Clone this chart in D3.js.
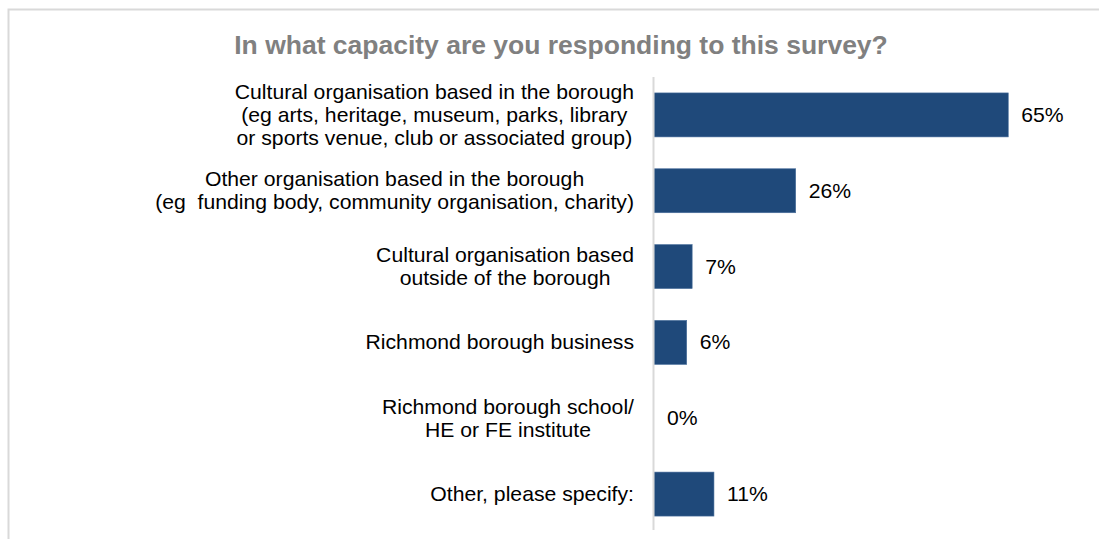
<!DOCTYPE html>
<html>
<head>
<meta charset="utf-8">
<script src="https://cdn.jsdelivr.net/npm/d3@7"></script>
<style>
  html, body { margin: 0; padding: 0; background: #fff; }
  svg { display: block; font-family: "Liberation Sans", Arial, sans-serif; }
  text { white-space: pre; }
</style>
</head>
<body>
<svg id="chart" width="1099" height="539"></svg>
<script>
// Survey responses: respondent type and share (%)
const categories = [
  ["Cultural organisation based in the borough", "(eg arts, heritage, museum, parks, library", "or sports venue, club or associated group)"],
  ["Other organisation based in the borough", "(eg  funding body, community organisation, charity)"],
  ["Cultural organisation based", "outside of the borough"],
  ["Richmond borough business"],
  ["Richmond borough school/", "HE or FE institute"],
  ["Other, please specify:"]
];
const values = [65, 26, 7, 6, 0, 11];
const valueLabels = ["65%", "26%", "7%", "6%", "0%", "11%"];
const title = "In what capacity are you responding to this survey?";

const svg = d3.select("#chart");
const W = 1099, H = 539;
const stretch = 1.06;   // slightly wide text rendering

// Chart frame (top and left edges)
svg.append("path")
  .attr("d", `M8.5,${H} L8.5,9.5 L${W},9.5`)
  .attr("fill", "none")
  .attr("stroke", "#d9d9d9")
  .attr("stroke-width", 2);

svg.append("text")
  .attr("transform", `translate(561,54) scale(${stretch},1)`)
  .attr("text-anchor", "middle")
  .attr("font-size", 25)
  .attr("font-weight", "bold")
  .attr("fill", "#808080")
  .text(title);

const x0 = 654;
const x = d3.scaleLinear().domain([0, 100]).range([x0, x0 + 545]);
const y = d3.scaleBand()
  .domain(d3.range(categories.length))
  .range([77, 532])
  .paddingInner(0.42)
  .paddingOuter(0.21);

// Bars
svg.selectAll("rect.bar")
  .data(values)
  .join("rect")
  .attr("class", "bar")
  .attr("x", x(0))
  .attr("y", (d, i) => y(i))
  .attr("width", d => x(d) - x(0))
  .attr("height", y.bandwidth())
  .attr("fill", "#1f497a")
  .attr("stroke", d => d > 0 ? "#4a6f9c" : "none")
  .attr("stroke-width", 0.6);

// Category axis line
svg.append("line")
  .attr("x1", x0 - 0.5).attr("x2", x0 - 0.5)
  .attr("y1", 77).attr("y2", 530)
  .attr("stroke", "#d9d9d9")
  .attr("stroke-width", 2);

// Value labels
svg.selectAll("text.val")
  .data(values)
  .join("text")
  .attr("class", "val")
  .attr("transform", (d, i) =>
    `translate(${x(d) + 13},${y(i) + y.bandwidth() / 2 + 7}) scale(${stretch},1)`)
  .attr("font-size", 20)
  .attr("fill", "#000")
  .text((d, i) => valueLabels[i]);

// Category labels: lines centred within a block right-aligned to the axis
const lineH = 22.6;
const labelRight = 634;
categories.forEach((lines, i) => {
  const cy = y(i) + y.bandwidth() / 2;
  const g = svg.append("g")
    .attr("transform", `translate(${labelRight},${cy}) scale(${stretch},1)`);
  const t = g.append("text")
    .attr("font-size", 20)
    .attr("fill", "#000")
    .attr("text-anchor", "middle");
  const spans = lines.map((ln, k) =>
    t.append("tspan")
      .attr("y", (k - (lines.length - 1) / 2) * lineH + 7)
      .text(ln));
  const maxW = d3.max(spans, s => s.node().getComputedTextLength());
  spans.forEach(s => s.attr("x", -maxW / 2));
});
</script>
</body>
</html>
